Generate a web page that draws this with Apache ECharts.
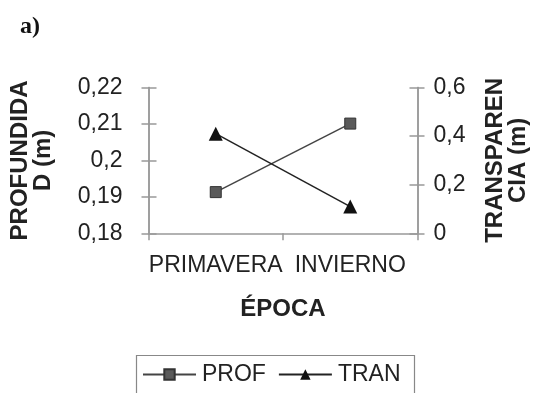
<!DOCTYPE html>
<html><head><meta charset="utf-8">
<script src="https://cdn.jsdelivr.net/npm/echarts@6/dist/echarts.min.js"></script>
<style>html,body{margin:0;padding:0;background:#fff}#c{width:538px;height:393px}</style>
</head><body><div id="c"></div>
<script>
const categories = ['PRIMAVERA', 'INVIERNO'];
const profValues = [0.1913, 0.2101];
const tranValues = [0.41, 0.11];
const leftTicks = {min: 0.18, max: 0.22, interval: 0.01};
const rightTicks = {min: 0, max: 0.6, interval: 0.2};
const FONT = 'Liberation Sans, Arial, sans-serif';
const TXT = '#222';
const AX = '#999';
const fmt = v => String(+v.toFixed(2)).replace('.', ',');

const chart = echarts.init(document.getElementById('c'), null, {renderer: 'canvas'});
const yBase = (t, pos, inside, show) => ({
  type: 'value', position: pos, min: t.min, max: t.max, interval: t.interval,
  splitLine: {show: false},
  axisLine: {show: true, lineStyle: {color: AX, width: 1.5}},
  axisTick: {show: true, inside: inside, length: inside ? 8 : 7, lineStyle: {color: AX, width: 1.5}},
  axisLabel: {show: show, color: TXT, fontFamily: FONT, fontSize: 23, formatter: fmt}
});
const y0 = Object.assign(yBase(leftTicks, 'left', false, true), {
  name: 'PROFUNDIDA\nD (m)', nameLocation: 'middle', nameRotate: 90, nameGap: 94,
  nameTextStyle: {color: TXT, fontFamily: FONT, fontSize: 24, fontWeight: 'bold', lineHeight: 23}
});
y0.axisLabel.margin = 26;
const y1 = Object.assign(yBase(rightTicks, 'right', false, true), {
  name: 'TRANSPAREN\nCIA (m)', nameLocation: 'middle', nameRotate: 90, nameGap: 66,
  nameTextStyle: {color: TXT, fontFamily: FONT, fontSize: 24, fontWeight: 'bold', lineHeight: 23}
});
y1.axisLabel.margin = 16;
const y2 = yBase(leftTicks, 'left', true, false);
const y3 = yBase(rightTicks, 'right', true, false);

chart.setOption({
  animation: false,
  backgroundColor: '#fff',
  title: {text: 'a)', left: 15, top: 10,
    textStyle: {fontFamily: 'Liberation Serif, serif', fontSize: 24, fontWeight: 'bold', color: '#111'}},
  grid: {left: 144, right: 118, top: 87.5, bottom: 159.7},
  xAxis: {
    type: 'category', data: categories, boundaryGap: true,
    name: 'ÉPOCA', nameLocation: 'middle', nameGap: 64,
    nameTextStyle: {color: TXT, fontFamily: FONT, fontSize: 24, fontWeight: 'bold', verticalAlign: 'top'},
    axisLine: {lineStyle: {color: AX, width: 1.5}},
    axisTick: {show: true, length: 7, lineStyle: {color: AX, width: 1.5}},
    axisLabel: {color: TXT, fontFamily: FONT, fontSize: 23, margin: 21, interval: 0, hideOverlap: false}
  },
  yAxis: [y0, y1, y2, y3],
  legend: {
    left: 137, top: 358, itemWidth: 53, itemHeight: 13, itemGap: 12,
    textStyle: {color: TXT, fontFamily: FONT, fontSize: 23, padding: [0, 0, 0, 1]},
    data: ['PROF', 'TRAN']
  },
  graphic: [{type: 'rect', left: 134, top: 353, shape: {width: 278, height: 44},
    style: {fill: 'none', stroke: '#888', lineWidth: 1.2}, silent: true}],
  series: [
    {name: 'PROF', type: 'line', yAxisIndex: 0, data: profValues,
     symbol: 'rect', symbolSize: 11,
     lineStyle: {color: '#444', width: 1.5},
     itemStyle: {color: '#5a5a5a', borderColor: '#333', borderWidth: 1}},
    {name: 'TRAN', type: 'line', yAxisIndex: 1, data: tranValues,
     symbol: 'triangle', symbolSize: 14,
     lineStyle: {color: '#222', width: 1.5},
     itemStyle: {color: '#111'}}
  ]
});
</script></body></html>
